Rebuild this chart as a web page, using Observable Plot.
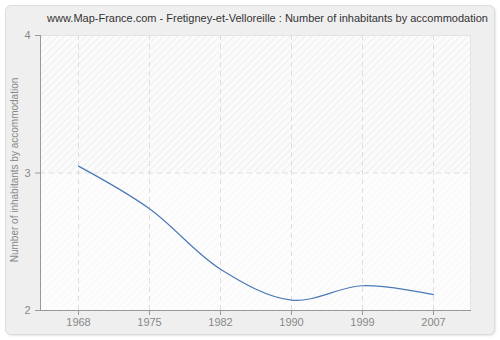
<!DOCTYPE html>
<html><head><meta charset="utf-8">
<script src="https://cdn.jsdelivr.net/npm/d3@7"></script>
<script src="https://cdn.jsdelivr.net/npm/@observablehq/plot@0.6"></script>
<style>
html,body{margin:0;padding:0;background:#fff;}
#wrap{position:relative;width:500px;height:340px;}
#panel{position:absolute;left:5px;top:5px;width:488px;height:328px;background:#efefef;border:1px solid #dcdcdc;border-radius:6px;box-shadow:1px 1px 2px rgba(0,0,0,0.10);}
#chart{position:absolute;left:0;top:0;}
</style></head><body>
<div id="wrap"><div id="panel"></div><div id="chart"></div></div>
<script>
const title = "www.Map-France.com - Fretigney-et-Velloreille : Number of inhabitants by accommodation";
const yLabel = "Number of inhabitants by accommodation";
const years = ["1968", "1975", "1982", "1990", "1999", "2007"];
const values = [3.05, 2.74, 2.30, 2.075, 2.18, 2.115];
const yTicks = [2, 3, 4];
const data = years.map((year, i) => ({year, value: values[i]}));

const plot = Plot.plot({
  width: 500, height: 340,
  marginLeft: 40, marginRight: 30, marginTop: 35, marginBottom: 30,
  style: {background: "transparent", fontFamily: "'Liberation Sans', Arial, sans-serif", fontSize: "11px", color: "#888"},
  x: {type: "point", domain: years, padding: 0.5},
  y: {domain: [yTicks[0], yTicks[yTicks.length - 1]]},
  marks: [
    Plot.frame({fill: "url(#hatch)", stroke: "#e4e4e4"}),
    Plot.rect([{lo: yTicks[0], hi: yTicks[1]}], {y1: "lo", y2: "hi", fill: "#ffffff", fillOpacity: 0.5}),
    Plot.ruleX(years, {stroke: "#dedede", strokeDasharray: "5,4"}),
    Plot.ruleY(yTicks.slice(1, -1), {stroke: "#dedede", strokeDasharray: "5,4"}),
    Plot.axisX({ticks: years, tickSize: 5, tickPadding: 3, stroke: "#999", fill: "#888", label: null}),
    Plot.axisY({ticks: yTicks, tickSize: 5, tickPadding: 5, tickFormat: d3.format("d"), stroke: "#999", fill: "#888", label: null}),
    Plot.frame({anchor: "left", stroke: "#999"}),
    Plot.frame({anchor: "bottom", stroke: "#999"}),
    Plot.line(data, {x: "year", y: "value", curve: "catmull-rom", stroke: "#4a7ab5", strokeWidth: 1.2}),
    Plot.text([title], {text: d => d, frameAnchor: "top", dx: 12, dy: -17, fill: "#333", fontSize: 11, textAnchor: "middle", lineAnchor: "middle"}),
    Plot.text([yLabel], {text: d => d, frameAnchor: "left", dx: -26, dy: -3, rotate: -90, fill: "#888", fontSize: 10, textAnchor: "middle", lineAnchor: "middle"})
  ]
});

const svg = d3.select(plot);
const defs = svg.insert("defs", ":first-child");
const pat = defs.append("pattern").attr("id", "hatch").attr("patternUnits", "userSpaceOnUse")
  .attr("width", 5).attr("height", 5).attr("patternTransform", "rotate(45)");
pat.append("rect").attr("width", 5).attr("height", 5).attr("fill", "#fbfbfb");
pat.append("line").attr("x1", 0).attr("y1", 0).attr("x2", 0).attr("y2", 5).attr("stroke", "#ececec").attr("stroke-width", 1.5);

document.getElementById("chart").appendChild(plot);
</script>
</body></html>
